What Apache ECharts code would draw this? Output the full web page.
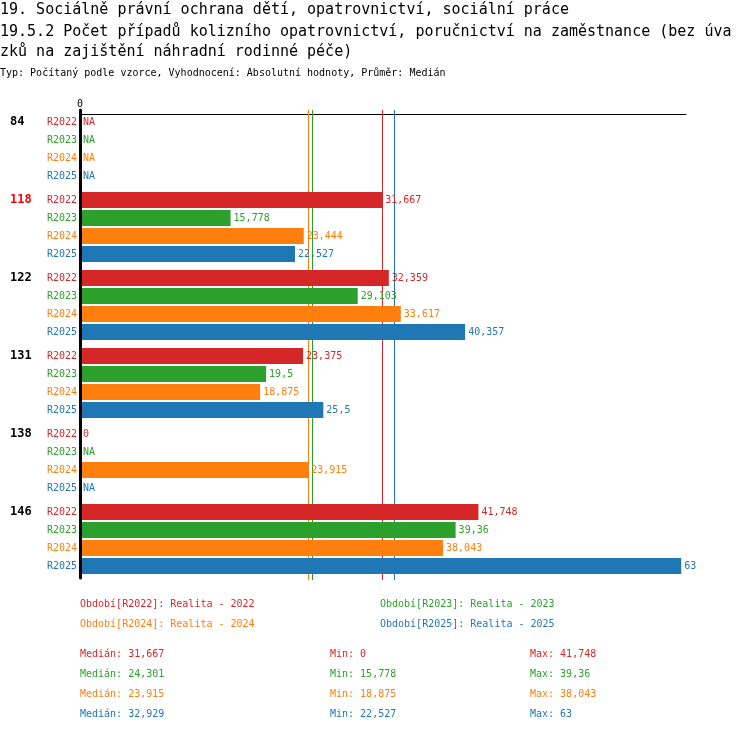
<!DOCTYPE html>
<html>
<head>
<meta charset="utf-8">
<script src="https://cdn.jsdelivr.net/npm/echarts@6/dist/echarts.min.js"></script>
<style>
html,body{margin:0;padding:0;background:#fff;}
#main{width:750px;height:732px;}
</style>
</head>
<body>
<div id="main"></div>
<script>
// data
var groups = ['84', '118', '122', '131', '138', '146'];
var highlighted = ['118'];
var periods = ['R2022', 'R2023', 'R2024', 'R2025'];
var periodNames = ['Realita - 2022', 'Realita - 2023', 'Realita - 2024', 'Realita - 2025'];
var colors = ['#d62728', '#2ca02c', '#ff7f0e', '#1f77b4'];
var r2022 = [null, 31.667, 32.359, 23.375, 0, 41.748];
var r2023 = [null, 15.778, 29.103, 19.5, null, 39.36];
var r2024 = [null, 23.444, 33.617, 18.875, 23.915, 38.043];
var r2025 = [null, 22.527, 40.357, 25.5, null, 63];
var values = [r2022, r2023, r2024, r2025];
// medians as printed (source rounding)
var medians = [31.667, 24.301, 23.915, 32.929];

var FONT = 'DejaVu Sans Mono';

function fmt(v) {
    return String(+v.toFixed(3)).replace('.', ',');
}
function validVals(arr) {
    return arr.filter(function (v) { return v !== null; });
}

var series = [];
var graphics = [];

// median lines, drawn under the bars
series.push({
    name: 'median',
    type: 'custom',
    z: 1,
    silent: true,
    data: medians.map(function (m, i) { return [m, i]; }),
    encode: { x: 0 },
    renderItem: function (params, api) {
        var x = Math.round(api.coord([api.value(0), 0])[0]) + 0.5;
        var cs = params.coordSys;
        return {
            type: 'line',
            shape: { x1: x, y1: cs.y, x2: x, y2: cs.y + cs.height + 2 },
            style: { stroke: colors[api.value(1)], lineWidth: 1 }
        };
    }
});

periods.forEach(function (p, i) {
    var vals = values[i];
    // zero width bar carrying the period tag on the left
    series.push({
        name: p + '_tag',
        type: 'bar',
        stack: p,
        barWidth: 16,
        barGap: '12.5%',
        z: 2,
        itemStyle: { color: 'rgba(0,0,0,0)' },
        data: groups.map(function () { return 0; }),
        label: {
            show: true,
            position: 'left',
            distance: 3,
            color: colors[i],
            fontFamily: FONT,
            fontSize: 10,
            formatter: p
        }
    });
    series.push({
        name: p,
        type: 'bar',
        stack: p,
        barWidth: 16,
        barGap: '12.5%',
        z: 20,
        itemStyle: { color: colors[i] },
        data: vals.map(function (v) { return v === null ? 0 : v; }),
        label: {
            show: true,
            position: 'right',
            distance: 3,
            color: colors[i],
            fontFamily: FONT,
            fontSize: 10,
            formatter: function (params) {
                var v = vals[params.dataIndex];
                return v === null ? 'NA' : fmt(v);
            }
        }
    });

    // legend text
    graphics.push({
        type: 'text',
        left: 80 + (i % 2) * 300,
        top: 599 + Math.floor(i / 2) * 20,
        style: { text: 'Období[' + p + ']: ' + periodNames[i], fill: colors[i], font: '10px ' + FONT }
    });
    // stats
    var vv = validVals(vals);
    var statY = 649 + i * 20;
    graphics.push({ type: 'text', left: 80, top: statY,
        style: { text: 'Medián: ' + fmt(medians[i]), fill: colors[i], font: '10px ' + FONT } });
    graphics.push({ type: 'text', left: 330, top: statY,
        style: { text: 'Min: ' + fmt(Math.min.apply(null, vv)), fill: colors[i], font: '10px ' + FONT } });
    graphics.push({ type: 'text', left: 530, top: statY,
        style: { text: 'Max: ' + fmt(Math.max.apply(null, vv)), fill: colors[i], font: '10px ' + FONT } });
});

graphics.push({ type: 'text', left: 0, top: 3,
    style: { text: '19. Sociálně právní ochrana dětí, opatrovnictví, sociální práce', fill: '#000', font: '15px ' + FONT } });
graphics.push({ type: 'text', left: 0, top: 25,
    style: { text: '19.5.2 Počet případů kolizního opatrovnictví, poručnictví na zaměstnance (bez úva', fill: '#000', font: '15px ' + FONT } });
graphics.push({ type: 'text', left: 0, top: 45,
    style: { text: 'zků na zajištění náhradní rodinné péče)', fill: '#000', font: '15px ' + FONT } });
graphics.push({ type: 'text', left: 0, top: 68,
    style: { text: 'Typ: Počítaný podle vzorce, Vyhodnocení: Absolutní hodnoty, Průměr: Medián', fill: '#000', font: '10px ' + FONT } });

var myChart = echarts.init(document.getElementById('main'));
var option = {
    backgroundColor: '#fff',
    animation: false,
    grid: { left: 80, right: 64, top: 110, height: 468 },
    xAxis: {
        type: 'value',
        position: 'top',
        offset: -4,
        min: 0,
        max: 63.5,
        axisLine: { show: true, lineStyle: { color: '#000', width: 1 } },
        axisTick: { show: false },
        splitLine: { show: false },
        axisLabel: {
            margin: 5,
            color: '#000',
            fontFamily: FONT,
            fontSize: 10,
            formatter: function (v) { return v === 0 ? '0' : ''; }
        }
    },
    yAxis: {
        type: 'category',
        inverse: true,
        data: groups,
        z: 30,
        axisLine: { show: true, lineStyle: { color: '#000', width: 3 } },
        axisTick: { show: false },
        axisLabel: {
            align: 'left',
            margin: 70,
            verticalAlign: 'middle',
            formatter: function (v) {
                return highlighted.indexOf(v) >= 0 ? '{hl|' + v + '}' : '{n|' + v + '}';
            },
            rich: {
                n: { color: '#000', fontFamily: FONT, fontSize: 12, fontWeight: 'bold', padding: [0, 0, 54, 0] },
                hl: { color: '#ff0000', fontFamily: FONT, fontSize: 12, fontWeight: 'bold', padding: [0, 0, 54, 0] }
            }
        }
    },
    series: series,
    graphic: graphics
};
myChart.setOption(option);
</script>
</body>
</html>
